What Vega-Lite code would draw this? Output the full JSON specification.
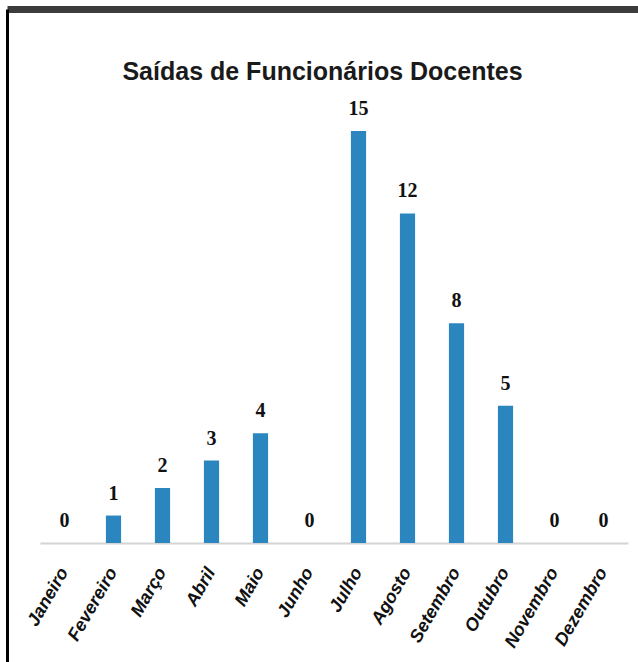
{
  "$schema": "https://vega.github.io/schema/vega-lite/v6.json",
  "autosize": "none",
  "width": 631,
  "height": 653,
  "padding": {"left": 7, "top": 9, "right": 0, "bottom": 0},
  "background": "white",
  "config": {"view": {"stroke": null}},
  "title": {
    "text": "Saídas de Funcionários Docentes",
    "font": "Liberation Sans, Arial, sans-serif",
    "fontSize": 25,
    "fontWeight": "bold",
    "color": "#1a1a1a",
    "anchor": "middle",
    "baseline": "alphabetic",
    "dy": 100
  },
  "data": {
    "values": [
      {"mes": "Janeiro", "saidas": 0},
      {"mes": "Fevereiro", "saidas": 1},
      {"mes": "Março", "saidas": 2},
      {"mes": "Abril", "saidas": 3},
      {"mes": "Maio", "saidas": 4},
      {"mes": "Junho", "saidas": 0},
      {"mes": "Julho", "saidas": 15},
      {"mes": "Agosto", "saidas": 12},
      {"mes": "Setembro", "saidas": 8},
      {"mes": "Outubro", "saidas": 5},
      {"mes": "Novembro", "saidas": 0},
      {"mes": "Dezembro", "saidas": 0}
    ]
  },
  "resolve": {
    "scale": {"x": "independent", "y": "independent"},
    "axis": {"x": "independent", "y": "independent"}
  },
  "layer": [
    {
      "mark": {"type": "bar", "color": "#2b86c0"},
      "encoding": {
        "x": {
          "field": "mes", "type": "nominal", "sort": null,
          "scale": {"range": [33, 621], "paddingInner": 0.69, "paddingOuter": 0.345},
          "axis": {
            "orient": "bottom", "offset": -119, "title": null,
            "ticks": false, "tickSize": 0,
            "domain": true, "domainColor": "#d4d4d4", "domainWidth": 2,
            "labelAngle": -60, "labelAlign": "right", "labelBaseline": "middle",
            "labelPadding": 26,
            "labelFont": "Liberation Sans, Arial, sans-serif", "labelFontStyle": "italic",
            "labelFontWeight": "bold",
            "labelFontSize": 18, "labelColor": "#111111"
          }
        },
        "y": {
          "field": "saidas", "type": "quantitative",
          "scale": {"domain": [0, 15], "range": [534, 122], "nice": false, "zero": true},
          "axis": null
        }
      }
    },
    {
      "mark": {
        "type": "text", "baseline": "alphabetic", "dy": -16,
        "font": "Liberation Serif, serif",
        "fontSize": 20, "fontWeight": "bold", "color": "#111111"
      },
      "encoding": {
        "x": {
          "field": "mes", "type": "nominal", "sort": null,
          "scale": {"range": [33, 621], "paddingInner": 0.69, "paddingOuter": 0.345},
          "axis": null
        },
        "y": {
          "field": "saidas", "type": "quantitative",
          "scale": {"domain": [0, 15], "range": [534, 122], "nice": false, "zero": true},
          "axis": null
        },
        "text": {"field": "saidas", "type": "quantitative"}
      }
    },
    {
      "mark": {"type": "point", "opacity": 0},
      "encoding": {
        "x": {
          "field": "mes", "type": "nominal", "sort": null,
          "axis": {
            "orient": "top", "title": null, "labels": false, "ticks": false,
            "domain": true, "domainColor": "#3c3c3c", "domainWidth": 7
          }
        },
        "y": {
          "field": "saidas", "type": "quantitative",
          "axis": {
            "orient": "left", "title": null, "labels": false, "ticks": false, "grid": false,
            "domain": true, "domainColor": "#000000", "domainWidth": 3
          }
        }
      }
    }
  ]
}
